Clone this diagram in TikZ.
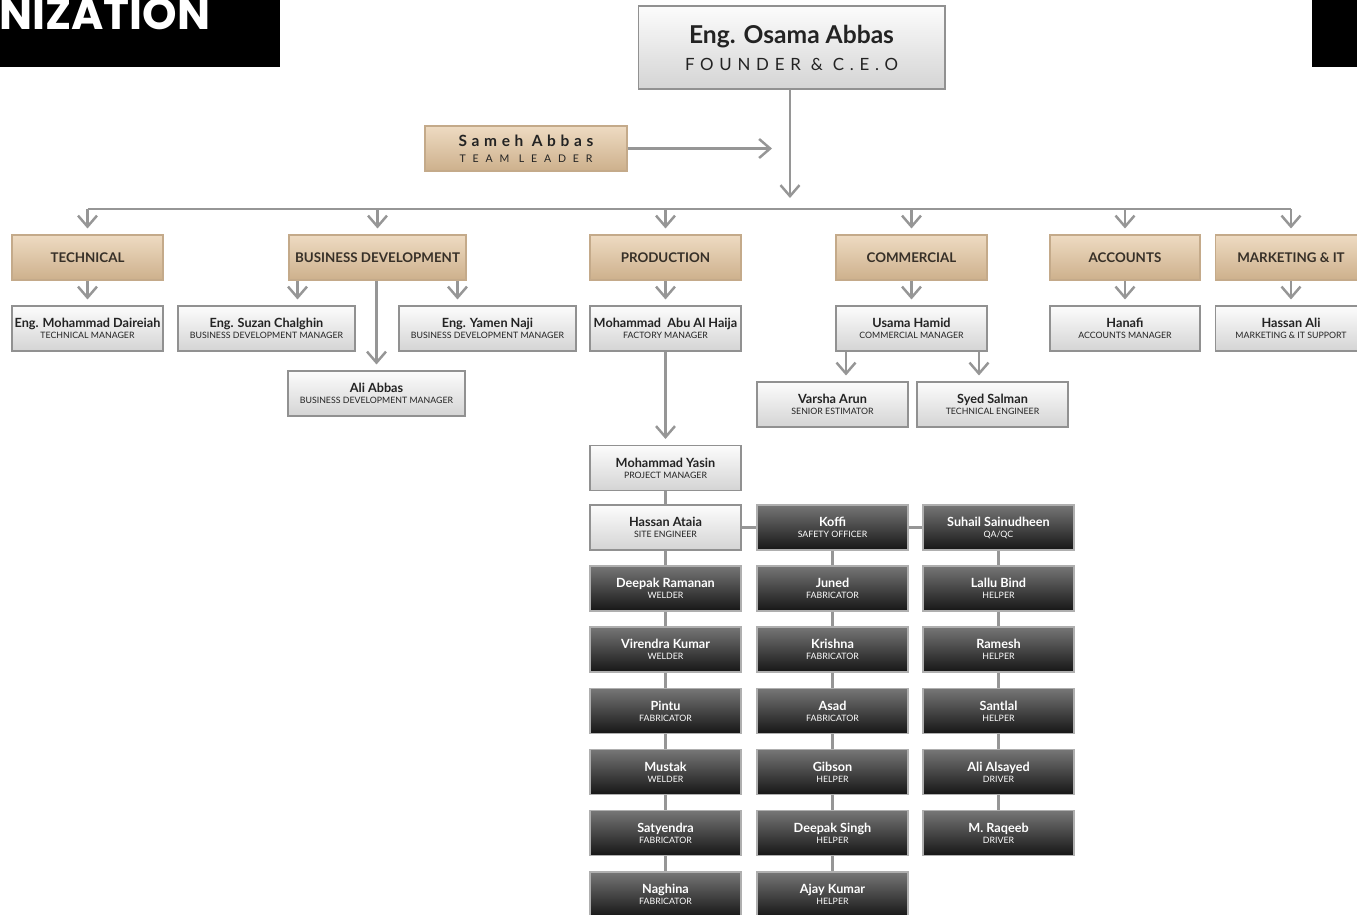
\documentclass[tikz,border=0pt]{standalone}
\usepackage{fontspec}
\setmainfont{Lato}
\newfontfamily\titulofont{Poppins}
\newfontfamily\espacado{Lato}[LetterSpace=34]
\newfontfamily\espacadonome{Lato}[LetterSpace=30]
\newfontfamily\espacadolargo{Lato}[LetterSpace=65]
\usetikzlibrary{arrows.meta,calc}
\definecolor{OrgTanTop}{RGB}{238,219,194}
\definecolor{OrgTanBottom}{RGB}{205,176,140}
\definecolor{OrgTanLine}{RGB}{196,170,138}
\definecolor{OrgTanText}{RGB}{55,48,40}
\definecolor{OrgLightTop}{RGB}{252,252,252}
\definecolor{OrgLightBottom}{RGB}{212,212,212}
\definecolor{OrgLightLine}{RGB}{145,145,145}
\definecolor{OrgDarkTop}{RGB}{118,118,118}
\definecolor{OrgDarkBottom}{RGB}{22,22,22}
\definecolor{OrgDarkLine}{RGB}{175,175,175}
\definecolor{OrgLine}{RGB}{150,150,150}
\definecolor{OrgText}{RGB}{35,35,35}
\newcommand{\cargofont}{\fontsize{5}{6.2}\selectfont}
\newcommand{\pessoa}[2]{{\bfseries #1}\\{\cargofont #2}}
\tikzset{
  bloco/.style={draw=OrgLightLine, line width=0.6pt, top color=OrgLightTop, bottom color=OrgLightBottom,
                text=OrgText, align=center, font=\fontsize{7.2}{6.2}\selectfont,
                inner sep=0pt, minimum width=3.02cm, minimum height=0.9cm},
  blocoescuro/.style={bloco, draw=OrgDarkLine, top color=OrgDarkTop, bottom color=OrgDarkBottom, text=white},
  blocodepto/.style={draw=OrgTanLine, line width=0.6pt, top color=OrgTanTop, bottom color=OrgTanBottom,
                text=OrgTanText, align=center, font=\fontsize{7.6}{9}\selectfont\bfseries,
                inner sep=0pt, minimum width=3.02cm, minimum height=0.9cm},
  seta/.style={-{Straight Barb[length=2.2mm,width=3.8mm]}, line width=1.4pt, OrgLine, shorten >=0.12cm},
  linha/.style={line width=1.2pt, OrgLine},
}

\begin{document}
\begin{tikzpicture}[x=0.02cm, y=-0.02cm]
  \useasboundingbox (0,0) rectangle (1357,914);
  \fill[white] (0,0) rectangle (1357,914);
  \clip (0,0) rectangle (1357,914);

  % Faixas do titulo
  \fill[black] (0,0) rectangle (280,67);
  \fill[black] (1312,0) rectangle (1357,67);
  \node[anchor=base west, inner sep=0pt, text=white, font=\titulofont\bfseries\fontsize{25}{25}\selectfont] (titulo) at (-1,29) {NIZATION};

  % Diretoria
  \node[bloco, minimum width=6.14cm, minimum height=1.66cm, font=\fontsize{14}{15.3}\selectfont] (ceo) at (791.5,47.5)
    {{\bfseries Eng. Osama Abbas}\\{\espacado\fontsize{9.6}{15.3}\selectfont FOUNDER \& C.E.O}};
  \node[blocodepto, minimum width=4.04cm, text=OrgText, font=\fontsize{8.8}{9}\selectfont] (sameh) at (526,148.5)
    {{\espacadonome\bfseries Sameh Abbas}\\{\espacadolargo\fontsize{6}{9}\selectfont TEAM LEADER}};
  \coordinate (barra) at (790,209);
  \draw[seta, shorten >=0.22cm] (ceo.south -| barra) -- (barra);
  \draw[seta, shorten >=0.36cm] (sameh.east) -- (sameh.east -| barra);

  % Departamentos
  \node[blocodepto] (tech) at (87.5,257.5) {TECHNICAL};
  \node[blocodepto, minimum width=3.54cm] (busdev) at (377.5,257.5) {BUSINESS DEVELOPMENT};
  \node[blocodepto] (prod) at (665.5,257.5) {PRODUCTION};
  \node[blocodepto] (comm) at (911.5,257.5) {COMMERCIAL};
  \node[blocodepto, minimum width=3.0cm] (acc) at (1125,257.5) {ACCOUNTS};
  \node[blocodepto] (mkt) at (1291,257.5) {MARKETING \& IT};
  \draw[linha] (tech |- barra) -- (mkt |- barra);
  \draw[seta] (tech |- barra) -- (tech.north);
  \draw[seta] (busdev |- barra) -- (busdev.north);
  \draw[seta] (prod |- barra) -- (prod.north);
  \draw[seta] (comm |- barra) -- (comm.north);
  \draw[seta] (acc |- barra) -- (acc.north);
  \draw[seta] (mkt |- barra) -- (mkt.north);

  % Gerentes
  \node[bloco] (daireiah) at (87.5,328.5) {\pessoa{Eng. Mohammad Daireiah}{TECHNICAL MANAGER}};
  \node[bloco, minimum width=3.54cm] (suzan) at (266.5,328.5) {\pessoa{Eng. Suzan Chalghin}{BUSINESS DEVELOPMENT MANAGER}};
  \node[bloco, minimum width=3.54cm] (yamen) at (487.5,328.5) {\pessoa{Eng. Yamen Naji}{BUSINESS DEVELOPMENT MANAGER}};
  \node[bloco, minimum width=3.54cm] (aliabbas) at (376.5,393.5) {\pessoa{Ali Abbas}{BUSINESS DEVELOPMENT MANAGER}};
  \node[bloco] (haija) at (665.5,328.5) {\pessoa{Mohammad\ \ Abu Al Haija}{FACTORY MANAGER}};
  \node[bloco] (usama) at (911.5,328.5) {\pessoa{Usama Hamid}{COMMERCIAL MANAGER}};
  \node[bloco] (varsha) at (832.5,404.5) {\pessoa{Varsha Arun}{SENIOR ESTIMATOR}};
  \node[bloco] (syed) at (992.5,404.5) {\pessoa{Syed Salman}{TECHNICAL ENGINEER}};
  \node[bloco, minimum width=3.0cm] (hanafi) at (1125,328.5) {\pessoa{Hanafi}{ACCOUNTS MANAGER}};
  \node[bloco] (hassanali) at (1291,328.5) {\pessoa{Hassan Ali}{MARKETING \& IT SUPPORT}};

  \draw[seta] (tech.south) -- (daireiah.north);
  \coordinate (bd1) at ([xshift=-1.6cm]busdev.south);
  \coordinate (bd2) at ([xshift=1.6cm]busdev.south);
  \draw[seta] (bd1) -- (bd1 |- suzan.north);
  \draw[seta] (bd2) -- (bd2 |- yamen.north);
  \draw[seta] (busdev.south -| aliabbas) -- (aliabbas.north);
  \draw[seta] (prod.south) -- (haija.north);
  \draw[seta] (comm.south) -- (usama.north);
  \coordinate (co1) at ([xshift=-1.31cm]usama.south);
  \coordinate (co2) at ([xshift=1.35cm]usama.south);
  \draw[seta] (co1) -- (co1 |- varsha.north);
  \draw[seta] (co2) -- (co2 |- syed.north);
  \draw[seta] (acc.south) -- (hanafi.north);
  \draw[seta] (mkt.south) -- (hassanali.north);

  % Equipe de obra
  \node[bloco] (yasin) at (665.5,468) {\pessoa{Mohammad Yasin}{PROJECT MANAGER}};
  \draw[seta] (haija.south) -- (yasin.north);

  \node[bloco] (ataia) at (665.5,527.5) {\pessoa{Hassan Ataia}{SITE ENGINEER}};
  \node[blocoescuro] (deepakr) at (665.5,588.5) {\pessoa{Deepak Ramanan}{WELDER}};
  \node[blocoescuro] (virendra) at (665.5,649.5) {\pessoa{Virendra Kumar}{WELDER}};
  \node[blocoescuro] (pintu) at (665.5,711) {\pessoa{Pintu}{FABRICATOR}};
  \node[blocoescuro] (mustak) at (665.5,772) {\pessoa{Mustak}{WELDER}};
  \node[blocoescuro] (satyendra) at (665.5,833) {\pessoa{Satyendra}{FABRICATOR}};
  \node[blocoescuro] (naghina) at (665.5,894.5) {\pessoa{Naghina}{FABRICATOR}};

  \node[blocoescuro] (koffi) at (832.5,527.5) {\pessoa{Koffi}{SAFETY OFFICER}};
  \node[blocoescuro] (juned) at (832.5,588.5) {\pessoa{Juned}{FABRICATOR}};
  \node[blocoescuro] (krishna) at (832.5,649.5) {\pessoa{Krishna}{FABRICATOR}};
  \node[blocoescuro] (asad) at (832.5,711) {\pessoa{Asad}{FABRICATOR}};
  \node[blocoescuro] (gibson) at (832.5,772) {\pessoa{Gibson}{HELPER}};
  \node[blocoescuro] (deepaks) at (832.5,833) {\pessoa{Deepak Singh}{HELPER}};
  \node[blocoescuro] (ajay) at (832.5,894.5) {\pessoa{Ajay Kumar}{HELPER}};

  \node[blocoescuro] (suhail) at (998.5,527.5) {\pessoa{Suhail Sainudheen}{QA/QC}};
  \node[blocoescuro] (lallu) at (998.5,588.5) {\pessoa{Lallu Bind}{HELPER}};
  \node[blocoescuro] (ramesh) at (998.5,649.5) {\pessoa{Ramesh}{HELPER}};
  \node[blocoescuro] (santlal) at (998.5,711) {\pessoa{Santlal}{HELPER}};
  \node[blocoescuro] (alisayed) at (998.5,772) {\pessoa{Ali Alsayed}{DRIVER}};
  \node[blocoescuro] (raqeeb) at (998.5,833) {\pessoa{M. Raqeeb}{DRIVER}};

  \draw[linha] (yasin) -- (ataia);
  \draw[linha] (ataia) -- (koffi) -- (suhail);
  \draw[linha] (ataia) -- (deepakr) -- (virendra) -- (pintu) -- (mustak) -- (satyendra) -- (naghina);
  \draw[linha] (koffi) -- (juned) -- (krishna) -- (asad) -- (gibson) -- (deepaks) -- (ajay);
  \draw[linha] (suhail) -- (lallu) -- (ramesh) -- (santlal) -- (alisayed) -- (raqeeb);
\end{tikzpicture}
\end{document}
